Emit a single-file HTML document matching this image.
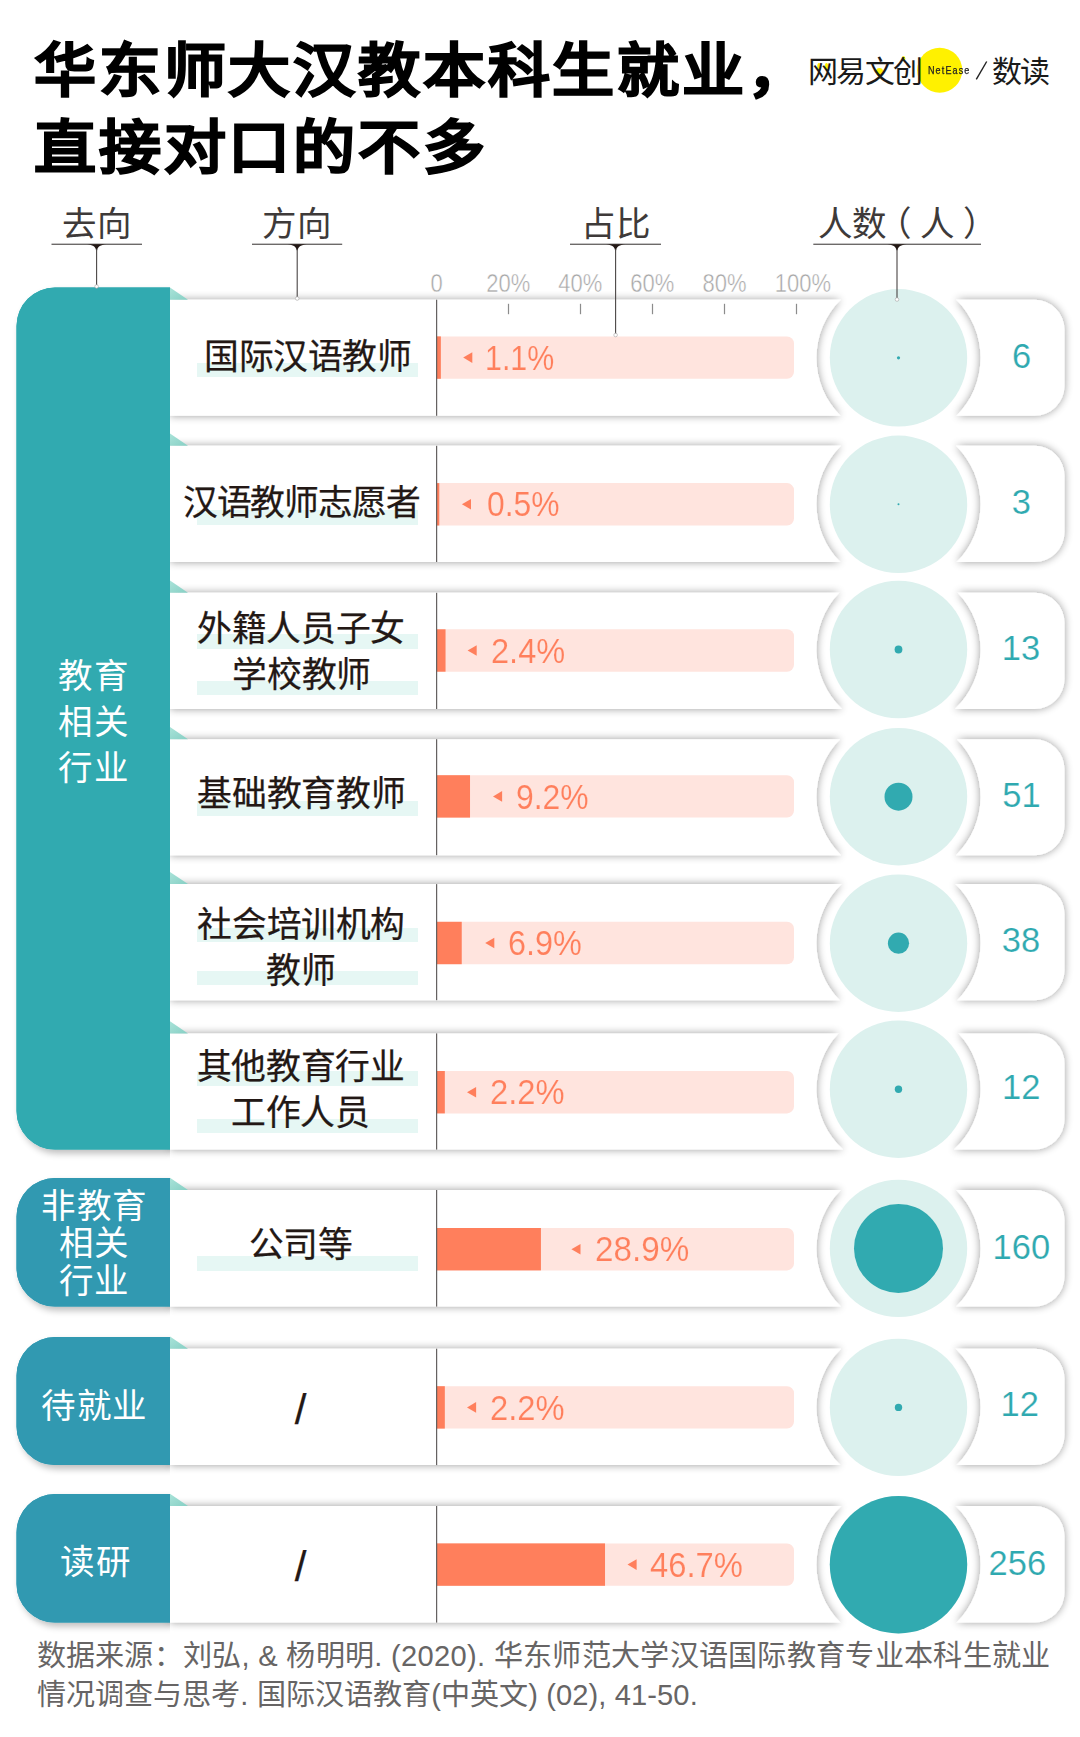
<!DOCTYPE html>
<html lang="zh-CN">
<head>
<meta charset="utf-8">
<title>华东师大汉教本科生就业，直接对口的不多</title>
<style>
html,body{margin:0;padding:0;background:#fff;}
body{width:1080px;height:1737px;position:relative;overflow:hidden;font-family:"Liberation Sans",sans-serif;color:#231815;}
svg.bg{position:absolute;left:0;top:0;}
.t{position:absolute;white-space:nowrap;line-height:1;}
.c{transform:translateX(-50%);text-align:center;}
.title{left:33.5px;font-size:58px;font-weight:900;color:#000;letter-spacing:2.55px;-webkit-text-stroke:1.4px #000;transform:scaleX(1.07);transform-origin:0 0;}
.hd{font-size:34.5px;color:#3e3a39;top:206.5px;letter-spacing:1px;}
.sc{font-size:22px;color:#a8a8a8;top:272.5px;transform:translateX(-50%) scaleY(1.14);-webkit-text-stroke:0.4px #fff;}
.lab{font-size:34.8px;color:#231815;-webkit-text-stroke:0.25px #231815;}
.hl{position:absolute;left:196.7px;width:221px;height:14.5px;background:#e6f7f4;}
.pct{font-size:35px;color:#ff7f5c;transform-origin:0 0;-webkit-text-stroke:0.15px #ffe4de;}
.num{font-size:34.5px;color:#2fa9b0;-webkit-text-stroke:0.2px #fff;}
.pn{font-size:34.5px;color:#fff;letter-spacing:1.5px;}
.ft{left:36.5px;font-size:29.1px;color:#676565;font-weight:300;}
.logo{font-size:30px;color:#1a1a1a;top:56.5px;}
</style>
</head>
<body>
<svg class="bg" width="1080" height="1737" viewBox="0 0 1080 1737">
<defs><filter id="sh" x="-5%" y="-20%" width="110%" height="140%"><feGaussianBlur in="SourceAlpha" stdDeviation="4"/><feOffset dx="0.3" dy="0.4"/><feComponentTransfer><feFuncA type="linear" slope="0.4"/></feComponentTransfer><feMerge><feMergeNode/><feMergeNode in="SourceGraphic"/></feMerge></filter><filter id="psh" x="-10%" y="-10%" width="130%" height="130%"><feGaussianBlur in="SourceAlpha" stdDeviation="3.5"/><feOffset dx="3" dy="3.5"/><feComponentTransfer><feFuncA type="linear" slope="0.26"/></feComponentTransfer><feMerge><feMergeNode/><feMergeNode in="SourceGraphic"/></feMerge></filter><linearGradient id="fold" x1="0" y1="0" x2="1" y2="1"><stop offset="0" stop-color="#a9e3d9"/><stop offset="1" stop-color="#86cfc4"/></linearGradient></defs>
<clipPath id="lc"><rect x="0" y="0" width="170" height="1737"/></clipPath><g clip-path="url(#lc)">
<path d="M55 287.5 L170 287.5 L170 1149.6 L55 1149.6 A38.5 38.5 0 0 1 16.5 1111.1 L16.5 326 A38.5 38.5 0 0 1 55 287.5 Z" fill="#31aab0" filter="url(#psh)"/>
<path d="M55 1178 L170 1178 L170 1306.6 L55 1306.6 A38.5 38.5 0 0 1 16.5 1268.1 L16.5 1216.5 A38.5 38.5 0 0 1 55 1178 Z" fill="#3199b1" filter="url(#psh)"/>
<path d="M55 1337 L170 1337 L170 1465.1 L55 1465.1 A38.5 38.5 0 0 1 16.5 1426.6 L16.5 1375.5 A38.5 38.5 0 0 1 55 1337 Z" fill="#3199b1" filter="url(#psh)"/>
<path d="M55 1494 L170 1494 L170 1622.6 L55 1622.6 A38.5 38.5 0 0 1 16.5 1584.1 L16.5 1532.5 A38.5 38.5 0 0 1 55 1494 Z" fill="#3199b1" filter="url(#psh)"/>
</g>
<path d="M170 299.7 L840.63 299.7 A82 82 0 0 0 840.53 415.8 L170 415.8 Z M956.37 299.7 L1034.5 299.7 A30 30 0 0 1 1064.5 329.7 L1064.5 385.8 A30 30 0 0 1 1034.5 415.8 L956.47 415.8 A82 82 0 0 0 956.37 299.7 Z M170 445.8 L841.04 445.8 A82 82 0 0 0 840.24 562 L170 562 Z M955.96 445.8 L1034.5 445.8 A30 30 0 0 1 1064.5 475.8 L1064.5 532 A30 30 0 0 1 1034.5 562 L956.76 562 A82 82 0 0 0 955.96 445.8 Z M170 592.8 L839.26 592.8 A82 82 0 0 0 842.08 709 L170 709 Z M957.74 592.8 L1034.5 592.8 A30 30 0 0 1 1064.5 622.8 L1064.5 679 A30 30 0 0 1 1034.5 709 L954.92 709 A82 82 0 0 0 957.74 592.8 Z M170 739.2 L840.04 739.2 A82 82 0 0 0 841.04 855.2 L170 855.2 Z M956.96 739.2 L1034.5 739.2 A30 30 0 0 1 1064.5 769.2 L1064.5 825.2 A30 30 0 0 1 1034.5 855.2 L955.96 855.2 A82 82 0 0 0 956.96 739.2 Z M170 884.1 L841.66 884.1 A82 82 0 0 0 839.55 1000.2 L170 1000.2 Z M955.34 884.1 L1034.5 884.1 A30 30 0 0 1 1064.5 914.1 L1064.5 970.2 A30 30 0 0 1 1034.5 1000.2 L957.45 1000.2 A82 82 0 0 0 955.34 884.1 Z M170 1033.4 L838.41 1033.4 A82 82 0 0 0 843.04 1149.6 L170 1149.6 Z M958.59 1033.4 L1034.5 1033.4 A30 30 0 0 1 1064.5 1063.4 L1064.5 1119.6 A30 30 0 0 1 1034.5 1149.6 L953.96 1149.6 A82 82 0 0 0 958.59 1033.4 Z M170 1190 L840.94 1190 A82 82 0 0 0 840.74 1306.6 L170 1306.6 Z M956.06 1190 L1034.5 1190 A30 30 0 0 1 1064.5 1220 L1064.5 1276.6 A30 30 0 0 1 1034.5 1306.6 L956.26 1306.6 A82 82 0 0 0 956.06 1190 Z M170 1348.7 L841.24 1348.7 A82 82 0 0 0 840.24 1465.1 L170 1465.1 Z M955.76 1348.7 L1034.5 1348.7 A30 30 0 0 1 1064.5 1378.7 L1064.5 1435.1 A30 30 0 0 1 1034.5 1465.1 L956.76 1465.1 A82 82 0 0 0 955.76 1348.7 Z M170 1506 L841.24 1506 A82 82 0 0 0 840.43 1622.6 L170 1622.6 Z M955.76 1506 L1034.5 1506 A30 30 0 0 1 1064.5 1536 L1064.5 1592.6 A30 30 0 0 1 1034.5 1622.6 L956.57 1622.6 A82 82 0 0 0 955.76 1506 Z" fill="#fff" filter="url(#sh)"/>
<path d="M55 287.5 L170 287.5 L170 1149.6 L55 1149.6 A38.5 38.5 0 0 1 16.5 1111.1 L16.5 326 A38.5 38.5 0 0 1 55 287.5 Z" fill="#31aab0"/>
<path d="M55 1178 L170 1178 L170 1306.6 L55 1306.6 A38.5 38.5 0 0 1 16.5 1268.1 L16.5 1216.5 A38.5 38.5 0 0 1 55 1178 Z" fill="#3199b1"/>
<path d="M55 1337 L170 1337 L170 1465.1 L55 1465.1 A38.5 38.5 0 0 1 16.5 1426.6 L16.5 1375.5 A38.5 38.5 0 0 1 55 1337 Z" fill="#3199b1"/>
<path d="M55 1494 L170 1494 L170 1622.6 L55 1622.6 A38.5 38.5 0 0 1 16.5 1584.1 L16.5 1532.5 A38.5 38.5 0 0 1 55 1494 Z" fill="#3199b1"/>
<path d="M170 287.5 L188 299.7 L170 299.7 Z" fill="url(#fold)"/>
<path d="M170 433.6 L188 445.8 L170 445.8 Z" fill="url(#fold)"/>
<path d="M170 580.6 L188 592.8 L170 592.8 Z" fill="url(#fold)"/>
<path d="M170 727 L188 739.2 L170 739.2 Z" fill="url(#fold)"/>
<path d="M170 871.9 L188 884.1 L170 884.1 Z" fill="url(#fold)"/>
<path d="M170 1021.2 L188 1033.4 L170 1033.4 Z" fill="url(#fold)"/>
<path d="M170 1177.8 L188 1190 L170 1190 Z" fill="url(#fold)"/>
<path d="M170 1336.5 L188 1348.7 L170 1348.7 Z" fill="url(#fold)"/>
<path d="M170 1493.8 L188 1506 L170 1506 Z" fill="url(#fold)"/>
<path d="M436.9 336.4 L787 336.4 A7 7 0 0 1 794 343.4 L794 371.8 A7 7 0 0 1 787 378.8 L436.9 378.8 Z" fill="#ffe4de"/>
<rect x="436.9" y="336.4" width="3.96" height="42.4" fill="#ff7f5c"/>
<rect x="436.1" y="299.7" width="1.1" height="116.1" fill="#555150"/>
<path d="M463.2 357.6 L472.3 352.3 L472.3 362.9 Z" fill="#ff7f5c"/>
<circle cx="898.5" cy="357.8" r="68.7" fill="#dcf1ee"/>
<circle cx="898.5" cy="357.8" r="1.6" fill="#31aab0"/>
<path d="M436.9 483.1 L787 483.1 A7 7 0 0 1 794 490.1 L794 518.5 A7 7 0 0 1 787 525.5 L436.9 525.5 Z" fill="#ffe4de"/>
<rect x="436.9" y="483.1" width="2.4" height="42.4" fill="#ff7f5c"/>
<rect x="436.1" y="445.8" width="1.1" height="116.2" fill="#555150"/>
<path d="M461.9 504.3 L471 499 L471 509.6 Z" fill="#ff7f5c"/>
<circle cx="898.5" cy="504.3" r="68.7" fill="#dcf1ee"/>
<circle cx="898.5" cy="504.3" r="1" fill="#31aab0"/>
<path d="M436.9 629.3 L787 629.3 A7 7 0 0 1 794 636.3 L794 664.7 A7 7 0 0 1 787 671.7 L436.9 671.7 Z" fill="#ffe4de"/>
<rect x="436.9" y="629.3" width="8.64" height="42.4" fill="#ff7f5c"/>
<rect x="436.1" y="592.8" width="1.1" height="116.2" fill="#555150"/>
<path d="M467.6 650.5 L476.7 645.2 L476.7 655.8 Z" fill="#ff7f5c"/>
<circle cx="898.5" cy="649.5" r="68.7" fill="#dcf1ee"/>
<circle cx="898.5" cy="649.5" r="3.9" fill="#31aab0"/>
<path d="M436.9 775.2 L787 775.2 A7 7 0 0 1 794 782.2 L794 810.6 A7 7 0 0 1 787 817.6 L436.9 817.6 Z" fill="#ffe4de"/>
<rect x="436.9" y="775.2" width="33.12" height="42.4" fill="#ff7f5c"/>
<rect x="436.1" y="739.2" width="1.1" height="116" fill="#555150"/>
<path d="M493 796.4 L502.1 791.1 L502.1 801.7 Z" fill="#ff7f5c"/>
<circle cx="898.5" cy="796.7" r="68.7" fill="#dcf1ee"/>
<circle cx="898.5" cy="796.7" r="14" fill="#31aab0"/>
<path d="M436.9 921.8 L787 921.8 A7 7 0 0 1 794 928.8 L794 957.2 A7 7 0 0 1 787 964.2 L436.9 964.2 Z" fill="#ffe4de"/>
<rect x="436.9" y="921.8" width="24.84" height="42.4" fill="#ff7f5c"/>
<rect x="436.1" y="884.1" width="1.1" height="116.1" fill="#555150"/>
<path d="M485.2 943 L494.3 937.7 L494.3 948.3 Z" fill="#ff7f5c"/>
<circle cx="898.5" cy="943.2" r="68.7" fill="#dcf1ee"/>
<circle cx="898.5" cy="943.2" r="10.6" fill="#31aab0"/>
<path d="M436.9 1071 L787 1071 A7 7 0 0 1 794 1078 L794 1106.4 A7 7 0 0 1 787 1113.4 L436.9 1113.4 Z" fill="#ffe4de"/>
<rect x="436.9" y="1071" width="7.92" height="42.4" fill="#ff7f5c"/>
<rect x="436.1" y="1033.4" width="1.1" height="116.2" fill="#555150"/>
<path d="M467 1092.2 L476.1 1086.9 L476.1 1097.5 Z" fill="#ff7f5c"/>
<circle cx="898.5" cy="1089.2" r="68.7" fill="#dcf1ee"/>
<circle cx="898.5" cy="1089.2" r="3.7" fill="#31aab0"/>
<path d="M436.9 1228 L787 1228 A7 7 0 0 1 794 1235 L794 1263.4 A7 7 0 0 1 787 1270.4 L436.9 1270.4 Z" fill="#ffe4de"/>
<rect x="436.9" y="1228" width="104.04" height="42.4" fill="#ff7f5c"/>
<rect x="436.1" y="1190" width="1.1" height="116.6" fill="#555150"/>
<path d="M571.4 1249.2 L580.5 1243.9 L580.5 1254.5 Z" fill="#ff7f5c"/>
<circle cx="898.5" cy="1248.4" r="68.7" fill="#dcf1ee"/>
<circle cx="898.5" cy="1248.4" r="44.5" fill="#31aab0"/>
<path d="M436.9 1386.2 L787 1386.2 A7 7 0 0 1 794 1393.2 L794 1421.6 A7 7 0 0 1 787 1428.6 L436.9 1428.6 Z" fill="#ffe4de"/>
<rect x="436.9" y="1386.2" width="7.92" height="42.4" fill="#ff7f5c"/>
<rect x="436.1" y="1348.7" width="1.1" height="116.4" fill="#555150"/>
<path d="M467 1407.4 L476.1 1402.1 L476.1 1412.7 Z" fill="#ff7f5c"/>
<circle cx="898.5" cy="1407.4" r="68.7" fill="#dcf1ee"/>
<circle cx="898.5" cy="1407.4" r="3.7" fill="#31aab0"/>
<path d="M436.9 1543.4 L787 1543.4 A7 7 0 0 1 794 1550.4 L794 1578.8 A7 7 0 0 1 787 1585.8 L436.9 1585.8 Z" fill="#ffe4de"/>
<rect x="436.9" y="1543.4" width="168.12" height="42.4" fill="#ff7f5c"/>
<rect x="436.1" y="1506" width="1.1" height="116.6" fill="#555150"/>
<path d="M627.5 1564.6 L636.6 1559.3 L636.6 1569.9 Z" fill="#ff7f5c"/>
<circle cx="898.5" cy="1564.7" r="68.7" fill="#dcf1ee"/>
<circle cx="898.5" cy="1564.7" r="68.7" fill="#31aab0"/>
<rect x="507.9" y="303.8" width="1.2" height="10.4" fill="#8c8c8c"/>
<rect x="579.9" y="303.8" width="1.2" height="10.4" fill="#8c8c8c"/>
<rect x="651.9" y="303.8" width="1.2" height="10.4" fill="#8c8c8c"/>
<rect x="723.9" y="303.8" width="1.2" height="10.4" fill="#8c8c8c"/>
<rect x="795.9" y="303.8" width="1.2" height="10.4" fill="#8c8c8c"/>
<rect x="51.5" y="243.7" width="90.5" height="1.05" fill="#3e3a39"/><path d="M87.1 244.3 C92.6 245 95.4 246.5 96.05 250.2 L97.15 250.2 C97.8 246.5 100.6 245 106.1 244.3 Z" fill="#231815"/><rect x="96.05" y="249" width="1.1" height="37.5" fill="#4a4645"/><circle cx="96.6" cy="286.5" r="1.8" fill="#fff" stroke="#a5a2a2" stroke-width="0.6"/>
<rect x="252" y="243.7" width="90.2" height="1.05" fill="#3e3a39"/><path d="M287.7 244.3 C293.2 245 296 246.5 296.65 250.2 L297.75 250.2 C298.4 246.5 301.2 245 306.7 244.3 Z" fill="#231815"/><rect x="296.65" y="249" width="1.1" height="49.5" fill="#4a4645"/><circle cx="297.2" cy="298.5" r="1.8" fill="#fff" stroke="#a5a2a2" stroke-width="0.6"/>
<rect x="570" y="243.7" width="91" height="1.05" fill="#3e3a39"/><path d="M606.1 244.3 C611.6 245 614.4 246.5 615.05 250.2 L616.15 250.2 C616.8 246.5 619.6 245 625.1 244.3 Z" fill="#231815"/><rect x="615.05" y="249" width="1.1" height="86" fill="#4a4645"/><circle cx="615.6" cy="335" r="1.8" fill="#fff" stroke="#a5a2a2" stroke-width="0.6"/>
<rect x="813.3" y="243.7" width="167.7" height="1.05" fill="#3e3a39"/><path d="M887.5 244.3 C893 245 895.8 246.5 896.45 250.2 L897.55 250.2 C898.2 246.5 901 245 906.5 244.3 Z" fill="#231815"/><rect x="896.45" y="249" width="1.1" height="50.5" fill="#4a4645"/><circle cx="897" cy="299.5" r="1.8" fill="#fff" stroke="#a5a2a2" stroke-width="0.6"/>
<circle cx="939.7" cy="70.2" r="22.5" fill="#fff100"/>
<path d="M986.7 61.5 L976.3 79.3" stroke="#222" stroke-width="1.4" fill="none"/>
<ellipse cx="819" cy="66.5" rx="1.7" ry="3.6" fill="#fff100"/><ellipse cx="826.5" cy="66.5" rx="1.7" ry="3.6" fill="#fff100"/>
<ellipse cx="879.5" cy="72" rx="3.6" ry="4" fill="#fff100"/><ellipse cx="903.5" cy="58.5" rx="1.8" ry="2.6" fill="#fff100"/>
</svg>
<div class="t title" style="top:42px">华东师大汉教本科生就业，</div>
<div class="t title" style="top:118.5px">直接对口的不多</div>
<div class="t logo" style="left:808px;letter-spacing:-1.6px">网易文创</div>
<div class="t" style="left:927.5px;top:65.5px;font-size:10px;color:#222;letter-spacing:1.25px;transform:scaleX(0.9);transform-origin:0 0;-webkit-text-stroke:0.25px #222">NetEase</div>
<div class="t logo" style="left:992px;letter-spacing:-2px">数读</div>
<div class="t c hd" style="left:96.6px;">去向</div>
<div class="t c hd" style="left:297px;">方向</div>
<div class="t c hd" style="left:615.8px;">占比</div>
<div class="t c hd" style="left:903px;letter-spacing:0px;">人数<span style="position:relative;left:-9px">（</span>人<span style="position:relative;left:9px">）</span></div>
<div class="t c sc" style="left:436.5px">0</div>
<div class="t c sc" style="left:508.3px">20%</div>
<div class="t c sc" style="left:580.2px">40%</div>
<div class="t c sc" style="left:652.2px">60%</div>
<div class="t c sc" style="left:724.6px">80%</div>
<div class="t c sc" style="left:803px">100%</div>
<div class="hl" style="top:362.8px"></div>
<div class="t c lab" style="left:307.85px;top:339.6px;letter-spacing:-0.5px">国际汉语教师</div>
<div class="t pct" style="left:485.4px;top:339.75px;transform:scaleX(0.867)">1.1%</div>
<div class="t c num" style="left:1021.5px;top:338.8px">6</div>
<div class="hl" style="top:510px"></div>
<div class="t c lab" style="left:301.2px;top:485.8px;letter-spacing:-1.2px">汉语教师志愿者</div>
<div class="t pct" style="left:487px;top:486.45px;transform:scaleX(0.909)">0.5%</div>
<div class="t c num" style="left:1021.3px;top:485px">3</div>
<div class="hl" style="top:634.25px"></div>
<div class="hl" style="top:680.5px"></div>
<div class="t c lab" style="left:301.07px;top:612.1px;letter-spacing:-0.35px">外籍人员子女</div>
<div class="t c lab" style="left:301.68px;top:658.25px;letter-spacing:-0.35px">学校教师</div>
<div class="t pct" style="left:491px;top:632.65px;transform:scaleX(0.93)">2.4%</div>
<div class="t c num" style="left:1021px;top:631px">13</div>
<div class="hl" style="top:801.25px"></div>
<div class="t c lab" style="left:301.43px;top:777.1px;letter-spacing:-0.35px">基础教育教师</div>
<div class="t pct" style="left:516px;top:778.55px;transform:scaleX(0.91)">9.2%</div>
<div class="t c num" style="left:1021.5px;top:778.2px">51</div>
<div class="hl" style="top:927.5px"></div>
<div class="hl" style="top:970.5px"></div>
<div class="t c lab" style="left:301.18px;top:908px;letter-spacing:-0.35px">社会培训机构</div>
<div class="t c lab" style="left:301.07px;top:954px;letter-spacing:-0.35px">教师</div>
<div class="t pct" style="left:508px;top:925.15px;transform:scaleX(0.926)">6.9%</div>
<div class="t c num" style="left:1021px;top:923.1px">38</div>
<div class="hl" style="top:1071.25px"></div>
<div class="hl" style="top:1118.75px"></div>
<div class="t c lab" style="left:300.68px;top:1049.6px;letter-spacing:-0.35px">其他教育行业</div>
<div class="t c lab" style="left:300.43px;top:1095.9px;letter-spacing:-0.35px">工作人员</div>
<div class="t pct" style="left:490px;top:1074.35px;transform:scaleX(0.935)">2.2%</div>
<div class="t c num" style="left:1021.2px;top:1069.9px">12</div>
<div class="hl" style="top:1256px"></div>
<div class="t c lab" style="left:300.68px;top:1228.25px;letter-spacing:-0.35px">公司等</div>
<div class="t pct" style="left:594.9px;top:1231.35px;transform:scaleX(0.949)">28.9%</div>
<div class="t c num" style="left:1021.3px;top:1229.9px">160</div>
<div class="t c lab" style="left:300.5px;top:1388.8px;font-size:42px;">/</div>
<div class="t pct" style="left:490px;top:1389.55px;transform:scaleX(0.935)">2.2%</div>
<div class="t c num" style="left:1019.7px;top:1386.9px">12</div>
<div class="t c lab" style="left:300.5px;top:1545.6px;font-size:42px;">/</div>
<div class="t pct" style="left:650px;top:1546.75px;transform:scaleX(0.936)">46.7%</div>
<div class="t c num" style="left:1017.3px;top:1545.7px">256</div>
<div class="t c pn" style="left:93.6px;top:658.9px">教育</div>
<div class="t c pn" style="left:93.6px;top:705.1px">相关</div>
<div class="t c pn" style="left:93.6px;top:751.3px">行业</div>
<div class="t c pn" style="left:94.4px;top:1188.8px">非教育</div>
<div class="t c pn" style="left:94.4px;top:1226.4px">相关</div>
<div class="t c pn" style="left:94.4px;top:1264px">行业</div>
<div class="t c pn" style="left:94.6px;top:1388.8px">待就业</div>
<div class="t c pn" style="left:95.5px;top:1545.3px">读研</div>
<div class="t ft" style="top:1642px;letter-spacing:0.3px">数据来源：刘弘, &amp; 杨明明. (2020). 华东师范大学汉语国际教育专业本科生就业</div>
<div class="t ft" style="top:1680.5px;letter-spacing:0.1px">情况调查与思考. 国际汉语教育(中英文) (02), 41-50.</div>
</body>
</html>
